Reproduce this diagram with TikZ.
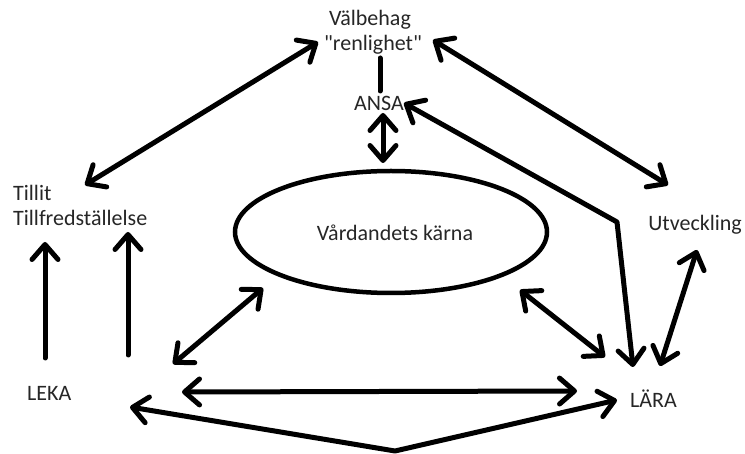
\documentclass[tikz,border=0pt]{standalone}
\usepackage{fontspec}
\newfontfamily\calib{Carlito}
\usetikzlibrary{arrows.meta,shapes.geometric}
\tikzset{
  lbl/.style={inner sep=0pt, font=\calib\fontsize{22}{25}\selectfont, text=black!85},
  conn/.style={line width=5pt, line cap=round, line join=round},
  hd/.tip={Straight Barb[length=15pt,width=26pt,round]},
}
\begin{document}
\begin{tikzpicture}[x=1pt,y=-1pt]
\useasboundingbox (0,0) rectangle (745,454);
% texts
\node[lbl] (valb) at (370,20) {Välbehag};
\node[lbl] (renl) at (373,45) {"renlighet"};
\node[lbl] (ansa) at (379,103) {ANSA};
\node[lbl,anchor=west] (tillit) at (13,193) {Tillit};
\node[lbl,anchor=west] (tillf) at (13,218) {Tillfredställelse};
\node[lbl,anchor=east] (utv) at (742,225) {Utveckling};
\node[lbl,anchor=west] (leka) at (27,393) {LEKA};
\node[lbl,anchor=west] (lara) at (630,399) {LÄRA};
\node[draw, line width=4.5pt, ellipse, minimum width=312pt, minimum height=122pt, inner sep=0pt] (core) at (391,232) {};
\node[lbl] (kar) at (395,233) {Vårdandets kärna};
% endpoints
\coordinate (p1a) at (318,42); \coordinate (p1b) at (85,185);
\coordinate (p2a) at (380,58); \coordinate (p2b) at (380,91);
\coordinate (p3a) at (383,113); \coordinate (p3b) at (383,163);
\coordinate (p4a) at (404,103); \coordinate (p4m) at (617,222); \coordinate (p4b) at (633,367);
\coordinate (p5a) at (433,40); \coordinate (p5b) at (668,185);
\coordinate (p6a) at (520,290); \coordinate (p6b) at (605,357);
\coordinate (p7a) at (697,250); \coordinate (p7b) at (660,366);
\coordinate (p8a) at (263,288); \coordinate (p8b) at (173,364);
\coordinate (p9a) at (182,392); \coordinate (p9b) at (577,391);
\coordinate (p10a) at (130,407); \coordinate (p10m) at (395,451); \coordinate (p10b) at (617,400);
\coordinate (p11a) at (45,358); \coordinate (p11b) at (45,242);
\coordinate (p12a) at (128,355); \coordinate (p12b) at (128,232);
% connectors
\draw[conn,hd-hd] (p1a) -- (p1b);
\draw[conn] (p2a) -- (p2b);
\draw[conn,hd-hd] (p3a) -- (p3b);
\draw[conn,hd-hd] (p4a) -- (p4m) -- (p4b);
\draw[conn,hd-hd] (p5a) -- (p5b);
\draw[conn,hd-hd] (p6a) -- (p6b);
\draw[conn,hd-hd] (p7a) -- (p7b);
\draw[conn,hd-hd] (p8a) -- (p8b);
\draw[conn,hd-hd] (p9a) -- (p9b);
\draw[conn,hd-hd] (p10a) -- (p10m) -- (p10b);
\draw[conn,-hd] (p11a) -- (p11b);
\draw[conn,-hd] (p12a) -- (p12b);
\end{tikzpicture}
\end{document}
